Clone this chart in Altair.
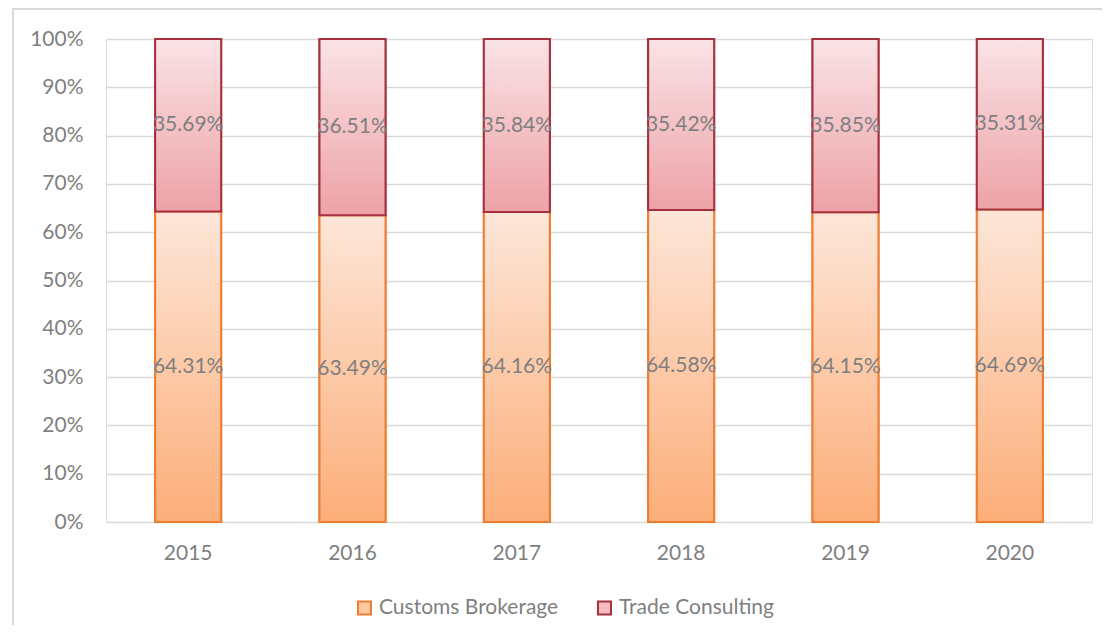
import altair as alt
import pandas as pd

years = ["2015", "2016", "2017", "2018", "2019", "2020"]
customs = [64.31, 63.49, 64.16, 64.58, 64.15, 64.69]
trade = [35.69, 36.51, 35.84, 35.42, 35.85, 35.31]
series = ["Customs Brokerage", "Trade Consulting"]

rows = []
for y, c, t in zip(years, customs, trade):
    rows.append(dict(year=y, series=series[0], value=c, start=0.0, end=c / 100.0))
    rows.append(dict(year=y, series=series[1], value=t, start=c / 100.0, end=1.0))
df = pd.DataFrame(rows)
df["mid"] = (df["start"] + df["end"]) / 2
df["label"] = df["value"].map(lambda v: f"{v:.2f}%")

FONT = "Lato"
GRAY = "#7f7f7f"
ORANGE_EDGE = "#ED7D31"
RED_EDGE = "#A5313E"

x_enc = alt.X("year:N", sort=years, title=None,
              scale=alt.Scale(paddingInner=0, paddingOuter=0),
              axis=alt.Axis(labelAngle=0, labelFontSize=21, labelColor=GRAY, labelFont=FONT,
                            domain=False, ticks=False, labelPadding=20, grid=False))
y_scale = alt.Scale(domain=[0, 1], nice=False)

base = alt.Chart(df)

legend_bars = base.mark_bar(size=66, strokeWidth=2).encode(
    x=x_enc,
    y=alt.Y("start:Q", scale=y_scale, title=None,
            axis=alt.Axis(format="%", values=[i / 10 for i in range(11)], labelFontSize=21,
                          labelColor=GRAY, labelFont=FONT, domain=False, ticks=False,
                          labelPadding=23, gridColor="#d9d9d9", gridWidth=1.5)),
    y2="end:Q",
    fill=alt.Fill("series:N", scale=alt.Scale(domain=series, range=["#fcc8a4", "#f2bcc0"]),
                  legend=alt.Legend(title=None, orient="none", direction="horizontal",
                                    legendX=248, legendY=558, labelFontSize=21, labelColor=GRAY,
                                    labelFont=FONT, symbolType="square", symbolSize=170,
                                    symbolStrokeWidth=2, columnPadding=34, labelOffset=4,
                                    labelLimit=0)),
    stroke=alt.Stroke("series:N", scale=alt.Scale(domain=series, range=[ORANGE_EDGE, RED_EDGE]),
                      legend=None),
)

grad_orange = alt.Gradient(gradient="linear", x1=0, x2=0, y1=0, y2=1,
                           stops=[alt.GradientStop(color="#fde6d8", offset=0),
                                  alt.GradientStop(color="#fcae79", offset=1)])
grad_pink = alt.Gradient(gradient="linear", x1=0, x2=0, y1=0, y2=1,
                         stops=[alt.GradientStop(color="#fae3e6", offset=0),
                                alt.GradientStop(color="#eda2a7", offset=1)])

bars_c = base.transform_filter(alt.datum.series == series[0]).mark_bar(
    size=66, fill=grad_orange, stroke=ORANGE_EDGE, strokeWidth=2).encode(
    x=alt.X("year:N", sort=years), y=alt.Y("start:Q", scale=y_scale), y2="end:Q")
bars_t = base.transform_filter(alt.datum.series == series[1]).mark_bar(
    size=66, fill=grad_pink, stroke=RED_EDGE, strokeWidth=2).encode(
    x=alt.X("year:N", sort=years), y=alt.Y("start:Q", scale=y_scale), y2="end:Q")

labels = base.mark_text(fontSize=21, color=GRAY, font=FONT).encode(
    x=alt.X("year:N", sort=years), y=alt.Y("mid:Q", scale=y_scale), text="label:N")

frame = alt.Chart(pd.DataFrame({"a": [0]})).mark_rect(
    fill=None, stroke="#d9d9d9", strokeWidth=2).encode(
    x=alt.value(-93), x2=alt.value(1040), y=alt.value(-30), y2=alt.value(700))

chart = alt.layer(frame, legend_bars, bars_c, bars_t, labels).properties(
    width=986, height=483,
    autosize=alt.AutoSizeParams(type="none"),
    padding={"left": 98, "top": 31, "right": 10, "bottom": 103},
).configure_view(stroke=None).configure(font=FONT)

chart.save("out.html", embed_options={"renderer": "svg", "actions": False})
